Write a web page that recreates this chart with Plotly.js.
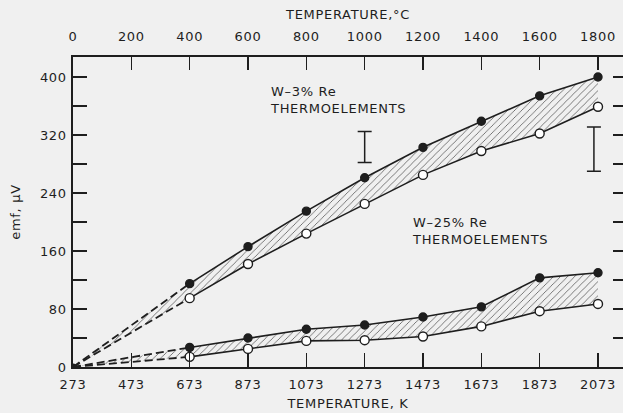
<!DOCTYPE html>
<html>
<head>
<meta charset="utf-8">
<script src="https://cdn.plot.ly/plotly-3.0.1.min.js"></script>
<style>
  html, body { margin: 0; padding: 0; background: #f0f0f0; }
  #chart { width: 623px; height: 413px; }
  .main-svg text { letter-spacing: 0.7px; }
</style>
</head>
<body>
<div id="chart"></div>
<script>
// ---- data ----
const kelvin = [273, 673, 873, 1073, 1273, 1473, 1673, 1873, 2073];
const w3Upper = [0, 115, 166, 215, 261, 303, 339, 374, 400];
const w3Lower = [0, 95, 142, 184, 225, 265, 298, 322, 359];
const w25Upper = [0, 27, 40, 52, 58, 69, 83, 123, 130];
const w25Lower = [0, 14, 25, 36, 37, 42, 56, 77, 87];

const kelvinTicks = [273, 473, 673, 873, 1073, 1273, 1473, 1673, 1873, 2073];
const celsiusTicks = [0, 200, 400, 600, 800, 1000, 1200, 1400, 1600, 1800];
const emfTicks = [0, 40, 80, 120, 160, 200, 240, 280, 320, 360, 400];
const emfTickText = ['0', '', '80', '', '160', '', '240', '', '320', '', '400'];

// uncertainty bars
const errX = [1273, 2059];
const errLow = [282, 270];
const errHigh = [325, 331];

const ink = '#1e1e1e';
const font = {family: 'DejaVu Sans, sans-serif', size: 13, color: ink};

const hatch = {shape: '/', fgcolor: '#5c5c5c', fgopacity: 1, size: 5, solidity: 0.16};

function fillPair(lower, upper) {
  return [
    {x: kelvin, y: lower, mode: 'lines', line: {width: 0, color: 'rgba(0,0,0,0)'},
     hoverinfo: 'skip', showlegend: false},
    {x: kelvin, y: upper, mode: 'lines', line: {width: 0, color: 'rgba(0,0,0,0)'},
     fill: 'tonexty', fillcolor: '#5c5c5c',
     fillpattern: hatch, hoverinfo: 'skip', showlegend: false}
  ];
}
function dashed(series) {
  return {x: kelvin.slice(0, 2), y: series.slice(0, 2), mode: 'lines',
          line: {color: ink, width: 1.8, dash: '8px,4px'}, showlegend: false};
}
function solid(series, filled) {
  return {x: kelvin.slice(1), y: series.slice(1), mode: 'lines+markers',
          line: {color: ink, width: 1.6},
          marker: {size: filled ? 8 : 9, color: filled ? ink : '#ffffff',
                   line: {color: ink, width: 1.4}, symbol: 'circle'},
          showlegend: false};
}

const errMid = errX.map((_, i) => (errLow[i] + errHigh[i]) / 2);
const errHalf = errX.map((_, i) => (errHigh[i] - errLow[i]) / 2);

const traces = [
  ...fillPair(w3Lower, w3Upper),
  ...fillPair(w25Lower, w25Upper),
  dashed(w3Upper), dashed(w3Lower), dashed(w25Upper), dashed(w25Lower),
  solid(w3Lower, false), solid(w3Upper, true),
  solid(w25Lower, false), solid(w25Upper, true),
  {x: [kelvin[0]], y: [w3Upper[0]], mode: 'markers',
   marker: {size: 7, color: ink}, showlegend: false},
  {x: errX, y: errMid, mode: 'markers', marker: {size: 1, color: 'rgba(0,0,0,0)'},
   error_y: {type: 'data', array: errHalf, visible: true, color: ink, thickness: 1.5, width: 7},
   showlegend: false},
  {x: [celsiusTicks[0]], y: [emfTicks[0]], xaxis: 'x2', yaxis: 'y2', mode: 'markers',
   marker: {size: 1, color: 'rgba(0,0,0,0)'}, hoverinfo: 'skip', showlegend: false}
];

const xEnd = 273 + (623 - 73) / (525 / 1800);
const yTop = (367 - 57) / (290 / 400);

const layout = {
  width: 623, height: 413,
  margin: {l: 73, r: 0, t: 57, b: 46},
  paper_bgcolor: '#f0f0f0', plot_bgcolor: '#f0f0f0',
  font: font,
  showlegend: false,
  xaxis: {
    range: [273, xEnd], tickvals: kelvinTicks, ticktext: kelvinTicks.map(String),
    ticks: 'inside', ticklen: 14, tickwidth: 1.3, tickcolor: ink,
    showline: true, linecolor: ink, linewidth: 1.6, ticklabelstandoff: 5,
    showgrid: false, zeroline: false, tickfont: font,
    title: {text: 'TEMPERATURE, K', font: font, standoff: 7}
  },
  xaxis2: {
    overlaying: 'x', side: 'top', anchor: 'y',
    range: [0, xEnd - 273], tickvals: celsiusTicks, ticktext: celsiusTicks.map(String),
    ticks: 'inside', ticklen: 13, tickwidth: 1.3, tickcolor: ink,
    showline: true, linecolor: ink, linewidth: 1.6, ticklabelstandoff: 9,
    showgrid: false, zeroline: false, tickfont: font,
    title: {text: 'TEMPERATURE,°C', font: font, standoff: 6}
  },
  yaxis: {
    range: [0, yTop], tickvals: emfTicks, ticktext: emfTickText,
    ticks: 'inside', ticklen: 14, tickwidth: 1.3, tickcolor: ink,
    showline: true, linecolor: ink, linewidth: 1.6, ticklabelstandoff: 2,
    showgrid: false, zeroline: false, tickfont: font,
    title: {text: 'emf, μV', font: font, standoff: 18}
  },
  yaxis2: {
    overlaying: 'y', side: 'right', anchor: 'x',
    range: [0, yTop], tickvals: emfTicks, showticklabels: false,
    ticks: 'inside', ticklen: 10, tickwidth: 1.3, tickcolor: ink,
    showline: false, showgrid: false, zeroline: false
  },
  annotations: [
    {x: 940, y: 368, xref: 'x', yref: 'y', xanchor: 'left', yanchor: 'middle',
     text: 'W–3% Re<br>THERMOELEMENTS', align: 'left', showarrow: false, font: font},
    {x: 1430, y: 188, xref: 'x', yref: 'y', xanchor: 'left', yanchor: 'middle',
     text: 'W–25% Re<br>THERMOELEMENTS', align: 'left', showarrow: false, font: font}
  ]
};

Plotly.newPlot('chart', traces, layout, {staticPlot: true, displayModeBar: false});
</script>
</body>
</html>
